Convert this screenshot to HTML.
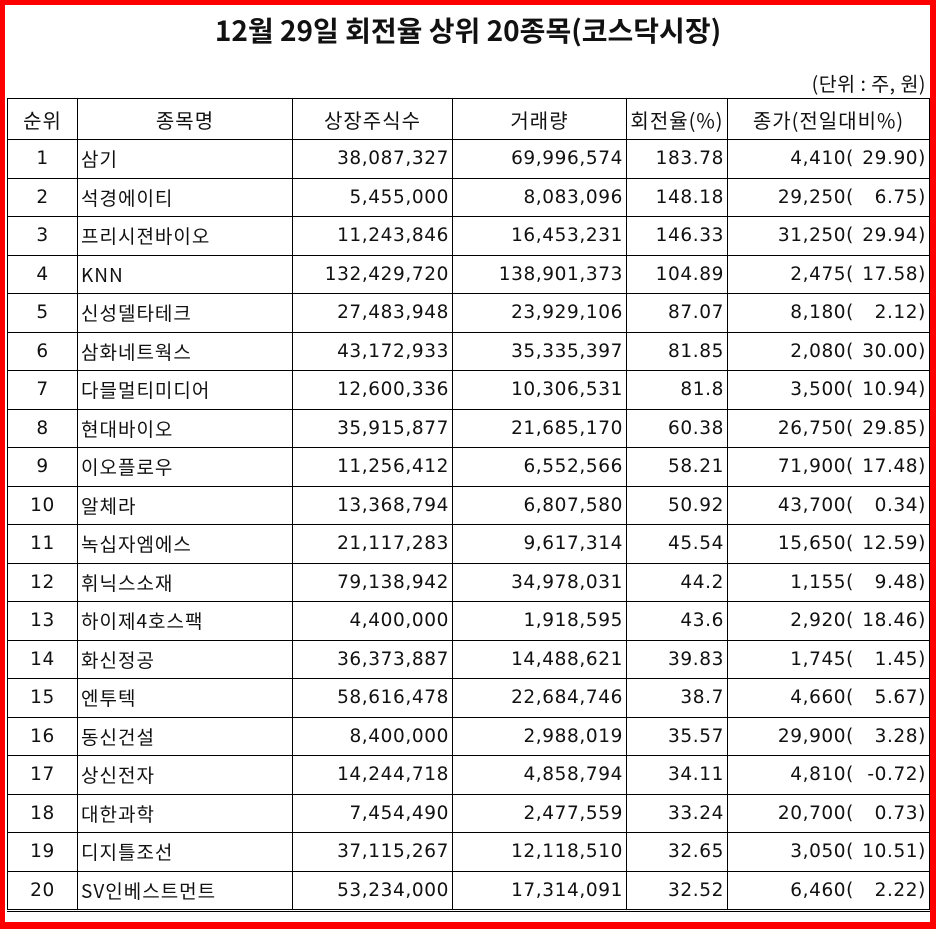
<!DOCTYPE html>
<html><head><meta charset="utf-8"><style>
html,body{margin:0;padding:0;background:#fff;}
body{width:936px;height:930px;position:relative;overflow:hidden;font-family:"DejaVu Sans","Noto Sans CJK KR",sans-serif;color:#111;}
.frame{position:absolute;left:0;top:0;width:925px;height:917px;border:5px solid #f00;border-right-width:6px;border-bottom-width:7px;}
.title{position:absolute;left:0;width:936px;top:10px;text-align:center;font-size:28px;font-weight:bold;font-family:"Noto Sans CJK KR","Liberation Sans",sans-serif;}
.unit{position:absolute;right:10px;top:68px;font-size:19.5px;font-family:"Noto Sans CJK KR",sans-serif;letter-spacing:0.5px;}
table{position:absolute;left:7px;top:98px;border-collapse:collapse;font-size:18.5px;table-layout:fixed;letter-spacing:0.6px;}
td{border:1.5px solid #000;height:37.5px;padding:0 3px;white-space:nowrap;overflow:visible;}
td:nth-child(2){font-family:"Noto Sans CJK KR",sans-serif;font-size:19px;letter-spacing:1px;}
tr.h td{height:40px;text-align:center;font-size:20px;font-family:"Noto Sans CJK KR",sans-serif;letter-spacing:1px;}
tr:last-child td{border-bottom:3px double #000;}
.c{text-align:center}.r{text-align:right}
.p{display:flex;justify-content:flex-end}
.p span{display:inline-block;width:72px;text-align:right}
</style></head><body>
<div class="frame"></div>
<div class="title">12월 29일 회전율 상위 20종목(코스닥시장)</div>
<div class="unit">(단위 : 주, 원)</div>
<table>
<colgroup><col style="width:70px"><col style="width:215px"><col style="width:160px"><col style="width:174px"><col style="width:101px"><col style="width:202px"></colgroup>
<tr class="h"><td>순위</td><td>종목명</td><td>상장주식수</td><td>거래량</td><td>회전율(%)</td><td>종가(전일대비%)</td></tr>
<tr><td class="c">1</td><td>삼기</td><td class="r">38,087,327</td><td class="r">69,996,574</td><td class="r">183.78</td><td><div class="p">4,410(<span>29.90)</span></div></td></tr>
<tr><td class="c">2</td><td>석경에이티</td><td class="r">5,455,000</td><td class="r">8,083,096</td><td class="r">148.18</td><td><div class="p">29,250(<span>6.75)</span></div></td></tr>
<tr><td class="c">3</td><td>프리시젼바이오</td><td class="r">11,243,846</td><td class="r">16,453,231</td><td class="r">146.33</td><td><div class="p">31,250(<span>29.94)</span></div></td></tr>
<tr><td class="c">4</td><td>KNN</td><td class="r">132,429,720</td><td class="r">138,901,373</td><td class="r">104.89</td><td><div class="p">2,475(<span>17.58)</span></div></td></tr>
<tr><td class="c">5</td><td>신성델타테크</td><td class="r">27,483,948</td><td class="r">23,929,106</td><td class="r">87.07</td><td><div class="p">8,180(<span>2.12)</span></div></td></tr>
<tr><td class="c">6</td><td>삼화네트웍스</td><td class="r">43,172,933</td><td class="r">35,335,397</td><td class="r">81.85</td><td><div class="p">2,080(<span>30.00)</span></div></td></tr>
<tr><td class="c">7</td><td>다믈멀티미디어</td><td class="r">12,600,336</td><td class="r">10,306,531</td><td class="r">81.8</td><td><div class="p">3,500(<span>10.94)</span></div></td></tr>
<tr><td class="c">8</td><td>현대바이오</td><td class="r">35,915,877</td><td class="r">21,685,170</td><td class="r">60.38</td><td><div class="p">26,750(<span>29.85)</span></div></td></tr>
<tr><td class="c">9</td><td>이오플로우</td><td class="r">11,256,412</td><td class="r">6,552,566</td><td class="r">58.21</td><td><div class="p">71,900(<span>17.48)</span></div></td></tr>
<tr><td class="c">10</td><td>알체라</td><td class="r">13,368,794</td><td class="r">6,807,580</td><td class="r">50.92</td><td><div class="p">43,700(<span>0.34)</span></div></td></tr>
<tr><td class="c">11</td><td>녹십자엠에스</td><td class="r">21,117,283</td><td class="r">9,617,314</td><td class="r">45.54</td><td><div class="p">15,650(<span>12.59)</span></div></td></tr>
<tr><td class="c">12</td><td>휘닉스소재</td><td class="r">79,138,942</td><td class="r">34,978,031</td><td class="r">44.2</td><td><div class="p">1,155(<span>9.48)</span></div></td></tr>
<tr><td class="c">13</td><td>하이제4호스팩</td><td class="r">4,400,000</td><td class="r">1,918,595</td><td class="r">43.6</td><td><div class="p">2,920(<span>18.46)</span></div></td></tr>
<tr><td class="c">14</td><td>화신정공</td><td class="r">36,373,887</td><td class="r">14,488,621</td><td class="r">39.83</td><td><div class="p">1,745(<span>1.45)</span></div></td></tr>
<tr><td class="c">15</td><td>엔투텍</td><td class="r">58,616,478</td><td class="r">22,684,746</td><td class="r">38.7</td><td><div class="p">4,660(<span>5.67)</span></div></td></tr>
<tr><td class="c">16</td><td>동신건설</td><td class="r">8,400,000</td><td class="r">2,988,019</td><td class="r">35.57</td><td><div class="p">29,900(<span>3.28)</span></div></td></tr>
<tr><td class="c">17</td><td>상신전자</td><td class="r">14,244,718</td><td class="r">4,858,794</td><td class="r">34.11</td><td><div class="p">4,810(<span>-0.72)</span></div></td></tr>
<tr><td class="c">18</td><td>대한과학</td><td class="r">7,454,490</td><td class="r">2,477,559</td><td class="r">33.24</td><td><div class="p">20,700(<span>0.73)</span></div></td></tr>
<tr><td class="c">19</td><td>디지틀조선</td><td class="r">37,115,267</td><td class="r">12,118,510</td><td class="r">32.65</td><td><div class="p">3,050(<span>10.51)</span></div></td></tr>
<tr><td class="c">20</td><td>SV인베스트먼트</td><td class="r">53,234,000</td><td class="r">17,314,091</td><td class="r">32.52</td><td><div class="p">6,460(<span>2.22)</span></div></td></tr>
</table>
</body></html>
